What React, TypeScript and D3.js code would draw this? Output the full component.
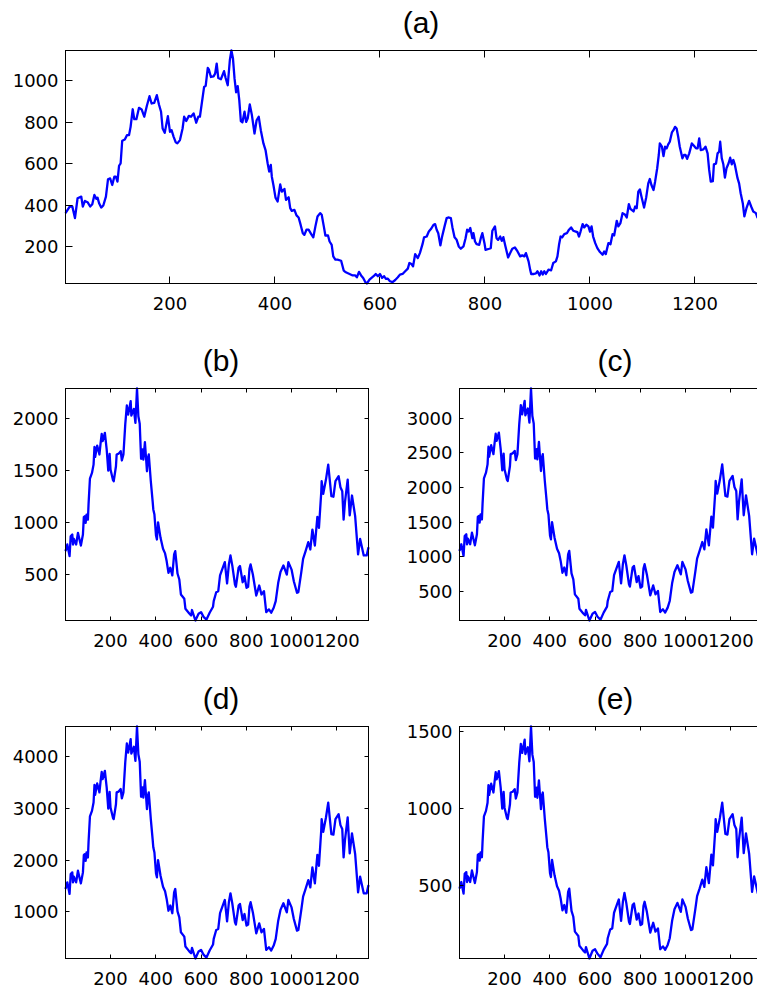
import React from "react";
import * as d3 from "d3";

const X_MIN = 1;
const X_MAX = 1340;
const X_TICKS = [200, 400, 600, 800, 1000, 1200];
const TITLES = ["(a)", "(b)", "(c)", "(d)", "(e)"];
const Y_TICKS_A = [200, 400, 600, 800, 1000];
const Y_TICKS_B = [500, 1000, 1500, 2000];
const Y_TICKS_C = [500, 1000, 1500, 2000, 2500, 3000];
const Y_TICKS_D = [1000, 2000, 3000, 4000];
const Y_TICKS_E = [500, 1000, 1500];

const xsA = [
  1, 9, 14, 19, 24, 31, 34, 38, 43, 48,
  52, 56, 60, 62, 65, 69, 73, 78, 82, 86,
  90, 94, 97, 100, 103, 106, 109, 114, 118, 122,
  125, 129, 132, 136, 141, 146, 151, 156, 161, 165,
  170, 175, 179, 183, 186, 190, 196, 200, 203, 207,
  211, 214, 219, 224, 227, 231, 236, 240, 245, 250,
  254, 257, 265, 268, 272, 274, 278, 283, 286, 289,
  292, 297, 303, 306, 310, 314, 317, 320, 323, 326,
  329, 332, 335, 338, 342, 345, 348, 352, 356, 361,
  365, 369, 373, 378, 382, 386, 389, 392, 394, 397,
  401, 405, 410, 413, 418, 421, 426, 429, 432, 437,
  441, 445, 448, 453, 456, 460, 464, 469, 473, 477,
  481, 486, 489, 493, 496, 501, 504, 508, 511, 515,
  519, 526, 531, 535, 542, 548, 553, 556, 560, 564,
  568, 572, 575, 580, 585, 589, 592, 596, 600, 604,
  608, 611, 615, 619, 624, 629, 634, 638, 643, 648,
  653, 656, 660, 663, 667, 672, 676, 681, 684, 689,
  693, 697, 702, 705, 708, 711, 715, 718, 723, 727,
  730, 735, 738, 742, 746, 750, 754, 759, 763, 766,
  769, 772, 776, 778, 781, 784, 789, 792, 795, 799,
  801, 808, 811, 814, 819, 822, 825, 829, 832, 835,
  839, 844, 848, 852, 857, 862, 867, 871, 875, 878,
  883, 886, 888, 893, 897, 900, 904, 907, 910, 913,
  916, 921, 926, 930, 935, 938, 941, 944, 947, 951,
  956, 960, 964, 968, 973, 976, 979, 982, 986, 989,
  993, 997, 1000, 1003, 1006, 1010, 1014, 1019, 1024, 1027,
  1030, 1035, 1039, 1043, 1046, 1051, 1054, 1058, 1062, 1067,
  1070, 1074, 1077, 1083, 1086, 1089, 1092, 1095, 1098, 1103,
  1107, 1111, 1114, 1117, 1121, 1124, 1128, 1131, 1133, 1137,
  1140, 1143, 1146, 1149, 1152, 1156, 1159, 1162, 1165, 1168,
  1171, 1176, 1179, 1182, 1185, 1189, 1194, 1198, 1202, 1205,
  1208, 1211, 1216, 1220, 1224, 1227, 1230, 1234, 1236, 1240,
  1243, 1246, 1248, 1251, 1254, 1257, 1260, 1264, 1267, 1270,
  1273, 1276, 1281, 1284, 1287, 1291, 1294, 1298, 1303, 1307,
  1311, 1316, 1319, 1325, 1332, 1340,
];
const valsA = [
  361, 393, 393, 337, 433, 441, 393, 420, 414, 393,
  404, 449, 430, 436, 409, 388, 398, 441, 525, 529,
  497, 537, 537, 513, 590, 602, 711, 717, 738, 738,
  778, 863, 815, 815, 870, 862, 827, 880, 926, 891,
  894, 931, 886, 851, 770, 749, 830, 754, 762, 730,
  703, 698, 714, 770, 827, 806, 831, 827, 843, 798,
  827, 827, 971, 976, 1063, 1056, 1019, 1022, 1035, 1084,
  1014, 1008, 1047, 1014, 979, 1100, 1147, 1108, 1011, 945,
  975, 907, 806, 800, 851, 802, 818, 886, 835, 746,
  810, 827, 762, 698, 666, 602, 562, 594, 537, 497,
  436, 417, 500, 465, 478, 425, 438, 385, 372, 377,
  350, 340, 313, 264, 256, 281, 281, 260, 244, 297,
  345, 361, 353, 297, 253, 253, 224, 208, 152, 136,
  136, 131, 83, 75, 67, 60, 60, 51, 77, 60,
  48, 28, 21, 40, 51, 59, 67, 56, 67, 48,
  56, 44, 44, 32, 28, 38, 51, 64, 67, 80,
  93, 120, 115, 104, 163, 144, 168, 211, 244, 248,
  272, 284, 305, 308, 281, 264, 205, 244, 297, 337,
  340, 337, 292, 244, 232, 200, 189, 200, 240, 281,
  272, 289, 240, 264, 224, 211, 208, 240, 264, 216,
  184, 189, 192, 276, 297, 240, 232, 248, 227, 245,
  200, 147, 168, 189, 195, 176, 152, 157, 152, 168,
  128, 88, 67, 67, 70, 80, 60, 80, 64, 80,
  67, 88, 85, 120, 128, 152, 208, 248, 244, 260,
  264, 281, 292, 276, 272, 269, 248, 272, 308, 292,
  305, 297, 272, 297, 248, 216, 192, 173, 160, 176,
  163, 216, 211, 260, 253, 324, 297, 313, 361, 353,
  340, 404, 382, 369, 393, 385, 465, 476, 441, 388,
  436, 505, 526, 497, 473, 513, 578, 642, 698, 682,
  637, 682, 674, 693, 706, 751, 762, 778, 770, 730,
  682, 626, 642, 642, 623, 650, 698, 687, 674, 674,
  722, 666, 669, 682, 650, 570, 513, 516, 597, 600,
  650, 658, 706, 626, 597, 533, 578, 602, 629, 597,
  618, 594, 530, 505, 457, 409, 345, 385, 420, 393,
  369, 361, 340, 330, 340, 380,
];

const xsSmall = [
  1, 9, 19, 24, 31, 34, 38, 48, 56, 60,
  69, 78, 82, 86, 90, 94, 100, 103, 109, 118,
  125, 129, 132, 141, 151, 156, 161, 165, 175, 183,
  190, 196, 200, 211, 214, 224, 227, 236, 245, 250,
  257, 265, 272, 278, 289, 292, 303, 310, 317, 323,
  329, 335, 342, 345, 352, 361, 365, 369, 378, 386,
  389, 394, 401, 405, 410, 421, 432, 441, 448, 456,
  464, 473, 481, 486, 496, 504, 511, 526, 531, 548,
  556, 560, 575, 589, 600, 611, 624, 638, 653, 656,
  667, 676, 684, 697, 705, 715, 723, 730, 738, 750,
  754, 766, 772, 784, 792, 801, 808, 814, 819, 829,
  844, 857, 867, 878, 888, 900, 910, 921, 930, 941,
  951, 964, 979, 986, 1000, 1010, 1024, 1030, 1043, 1051,
  1062, 1074, 1083, 1092, 1103, 1114, 1121, 1131, 1133, 1140,
  1152, 1162, 1176, 1185, 1194, 1208, 1216, 1224, 1230, 1236,
  1248, 1257, 1267, 1281, 1294, 1303, 1319, 1332, 1340,
];
const valsB = [
  722, 786, 674, 866, 882, 786, 840, 786, 898, 860,
  776, 882, 1050, 1058, 994, 1074, 1026, 1180, 1422, 1476,
  1556, 1726, 1630, 1740, 1654, 1760, 1852, 1782, 1862, 1702,
  1498, 1660, 1508, 1406, 1396, 1540, 1654, 1662, 1686, 1596,
  1654, 1942, 2126, 2038, 2168, 2028, 2094, 1958, 2290, 2022,
  1950, 1612, 1702, 1604, 1772, 1492, 1620, 1654, 1396, 1204,
  1124, 1074, 872, 834, 1000, 850, 744, 700, 626, 512,
  562, 488, 690, 722, 506, 448, 304, 262, 166, 120,
  102, 154, 53, 118, 134, 88, 62, 128, 186, 240,
  326, 336, 488, 568, 616, 410, 594, 680, 584, 400,
  378, 562, 578, 422, 480, 368, 378, 552, 594, 496,
  294, 390, 304, 336, 134, 160, 128, 176, 240, 416,
  520, 584, 496, 616, 544, 432, 320, 326, 520, 648,
  722, 808, 738, 930, 776, 1052, 946, 1284, 1396, 1274,
  1412, 1556, 1252, 1246, 1396, 1444, 1338, 1300, 1026, 1194,
  1412, 1066, 1258, 1060, 690, 840, 680, 680, 760,
];
const valsC = [
  1083, 1179, 1011, 1299, 1323, 1179, 1260, 1179, 1347, 1290,
  1164, 1323, 1575, 1587, 1491, 1611, 1539, 1770, 2133, 2214,
  2334, 2589, 2445, 2610, 2481, 2640, 2778, 2673, 2793, 2553,
  2247, 2490, 2262, 2109, 2094, 2310, 2481, 2493, 2529, 2394,
  2481, 2913, 3189, 3057, 3252, 3042, 3141, 2937, 3430, 3033,
  2925, 2418, 2553, 2406, 2658, 2238, 2430, 2481, 2094, 1806,
  1686, 1611, 1308, 1251, 1500, 1275, 1116, 1050, 939, 768,
  843, 732, 1035, 1083, 759, 672, 456, 393, 249, 180,
  153, 231, 78, 177, 201, 132, 90, 192, 279, 360,
  489, 504, 732, 852, 924, 615, 891, 1020, 876, 600,
  567, 843, 867, 633, 720, 552, 567, 828, 891, 744,
  441, 585, 456, 504, 201, 240, 192, 264, 360, 624,
  780, 876, 744, 924, 816, 648, 480, 489, 780, 972,
  1083, 1212, 1107, 1395, 1164, 1578, 1419, 1926, 2094, 1911,
  2118, 2334, 1878, 1869, 2094, 2166, 2007, 1950, 1539, 1791,
  2118, 1599, 1887, 1590, 1035, 1260, 1020, 1020, 1140,
];
const valsD = [
  1444, 1572, 1348, 1732, 1764, 1572, 1680, 1572, 1796, 1720,
  1552, 1764, 2100, 2116, 1988, 2148, 2052, 2360, 2844, 2952,
  3112, 3452, 3260, 3480, 3308, 3520, 3704, 3564, 3724, 3404,
  2996, 3320, 3016, 2812, 2792, 3080, 3308, 3324, 3372, 3192,
  3308, 3884, 4252, 4076, 4336, 4056, 4188, 3916, 4580, 4044,
  3900, 3224, 3404, 3208, 3544, 2984, 3240, 3308, 2792, 2408,
  2248, 2148, 1744, 1668, 2000, 1700, 1488, 1400, 1252, 1024,
  1124, 976, 1380, 1444, 1012, 896, 608, 524, 332, 240,
  204, 308, 102, 236, 268, 176, 120, 256, 372, 480,
  652, 672, 976, 1136, 1232, 820, 1188, 1360, 1168, 800,
  756, 1124, 1156, 844, 960, 736, 756, 1104, 1188, 992,
  588, 780, 608, 672, 268, 320, 256, 352, 480, 832,
  1040, 1168, 992, 1232, 1088, 864, 640, 652, 1040, 1296,
  1444, 1616, 1476, 1860, 1552, 2104, 1892, 2568, 2792, 2548,
  2824, 3112, 2504, 2492, 2792, 2888, 2676, 2600, 2052, 2388,
  2824, 2132, 2516, 2120, 1380, 1680, 1360, 1360, 1520,
];
const valsE = [
  481, 524, 449, 577, 588, 524, 560, 524, 599, 573,
  517, 588, 700, 705, 663, 716, 684, 787, 948, 984,
  1037, 1151, 1087, 1160, 1103, 1173, 1235, 1188, 1241, 1135,
  999, 1107, 1005, 937, 931, 1027, 1103, 1108, 1124, 1064,
  1103, 1295, 1417, 1359, 1445, 1352, 1396, 1305, 1530, 1348,
  1300, 1075, 1135, 1069, 1181, 995, 1080, 1103, 931, 803,
  749, 716, 581, 556, 667, 567, 496, 467, 417, 341,
  375, 325, 460, 481, 337, 299, 203, 175, 111, 80,
  68, 103, 29, 79, 89, 59, 37, 85, 124, 160,
  217, 224, 325, 379, 411, 273, 396, 453, 389, 267,
  252, 375, 385, 281, 320, 245, 252, 368, 396, 331,
  196, 260, 203, 224, 89, 107, 85, 117, 160, 277,
  347, 389, 331, 411, 363, 288, 213, 217, 347, 432,
  481, 539, 492, 620, 517, 701, 631, 856, 931, 849,
  941, 1037, 835, 831, 931, 963, 892, 867, 684, 796,
  941, 711, 839, 707, 460, 560, 453, 453, 507,
];

const LINE_COLOR = "#0000ff";
const TICK_FONT = "'DejaVu Sans', sans-serif";
const TITLE_FONT = "'Liberation Sans', Arial, Helvetica, sans-serif";

type Box = { x: number; y: number; w: number; h: number };

function Panel({ box, xs, ys, yTicks, title, tickLen }: { box: Box; xs: number[]; ys: number[]; yTicks: number[]; title: string; tickLen: number }) {
  const x = d3.scaleLinear().domain([X_MIN, X_MAX]).range([box.x, box.x + box.w]);
  const ext = d3.extent(ys) as [number, number];
  const y = d3.scaleLinear().domain(ext).range([box.y + box.h, box.y]);
  const pts = d3.zip(xs, ys) as [number, number][];
  const path = d3.line<[number, number]>().x((d) => x(d[0])).y((d) => y(d[1]))(pts) || "";
  const L = box.x, R = box.x + box.w, T = box.y, B = box.y + box.h;
  const px = (v: number) => Math.round(v - 0.5) + 0.5;
  return (
    <g>
      <text x={(L + R) / 2 + 4} y={T - 17.5} textAnchor="middle" fontFamily={TITLE_FONT} fontSize={30} fill="#000">{title}</text>
      <path d={path} fill="none" stroke={LINE_COLOR} strokeWidth={2.3} strokeLinejoin="round" />
      <rect x={L} y={T} width={box.w} height={box.h} fill="none" stroke="#000" strokeWidth={1} />
      {X_TICKS.map((t) => (
        <g key={"x" + t}>
          <line x1={px(x(t))} x2={px(x(t))} y1={B} y2={B - tickLen} stroke="#000" strokeWidth={1} />
          <line x1={px(x(t))} x2={px(x(t))} y1={T} y2={T + tickLen} stroke="#000" strokeWidth={1} />
          <text x={x(t)} y={B + 26.5} textAnchor="middle" fontFamily={TICK_FONT} fontSize={18} fill="#000">{t}</text>
        </g>
      ))}
      {yTicks.map((t) => (
        <g key={"y" + t}>
          <line x1={L} x2={L + tickLen} y1={px(y(t))} y2={px(y(t))} stroke="#000" strokeWidth={1} />
          <line x1={R} x2={R - tickLen} y1={px(y(t))} y2={px(y(t))} stroke="#000" strokeWidth={1} />
          <text x={L - 7} y={y(t)} dy="0.36em" textAnchor="end" fontFamily={TICK_FONT} fontSize={18} fill="#000">{t}</text>
        </g>
      ))}
    </g>
  );
}

export default function App() {
  return (
    <svg width={757} height={991} style={{ position: "absolute", left: 0, top: 0, background: "#fff" }}>
      <rect x={0} y={0} width={757} height={991} fill="#fff" />
      <Panel box={{ x: 65.5, y: 50.5, w: 703, h: 233 }} xs={xsA} ys={valsA} yTicks={Y_TICKS_A} title={TITLES[0]} tickLen={7} />
      <Panel box={{ x: 65.5, y: 388.5, w: 303, h: 232 }} xs={xsSmall} ys={valsB} yTicks={Y_TICKS_B} title={TITLES[1]} tickLen={4} />
      <Panel box={{ x: 459.5, y: 388.5, w: 303, h: 232 }} xs={xsSmall} ys={valsC} yTicks={Y_TICKS_C} title={TITLES[2]} tickLen={4} />
      <Panel box={{ x: 65.5, y: 726.5, w: 303, h: 232 }} xs={xsSmall} ys={valsD} yTicks={Y_TICKS_D} title={TITLES[3]} tickLen={4} />
      <Panel box={{ x: 459.5, y: 726.5, w: 303, h: 232 }} xs={xsSmall} ys={valsE} yTicks={Y_TICKS_E} title={TITLES[4]} tickLen={4} />
    </svg>
  );
}
